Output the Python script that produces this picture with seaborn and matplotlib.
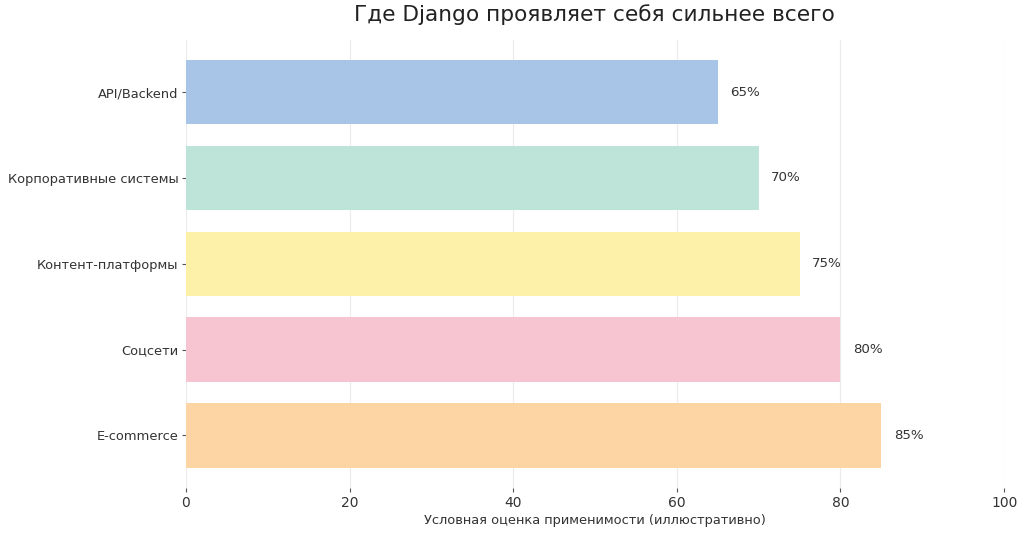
import matplotlib
matplotlib.use("Agg")
import matplotlib.pyplot as plt
import seaborn as sns
import pandas as pd

categories = ["API/Backend", "Корпоративные системы", "Контент-платформы", "Соцсети", "E-commerce"]
values = [65, 70, 75, 80, 85]
colors = ["#A8C5E8", "#BEE3D9", "#FDF0A8", "#F7C4D1", "#FDD5A5"]
x_ticks = [0, 20, 40, 60, 80, 100]
title = "Где Django проявляет себя сильнее всего"
xlabel = "Условная оценка применимости (иллюстративно)"

sns.set_theme(style="whitegrid")
plt.rcParams["font.family"] = ["DejaVu Sans"]

df = pd.DataFrame({"cat": categories, "val": values})

fig = plt.figure(figsize=(10.24, 5.35), dpi=100)
ax = fig.add_axes([0.1816, 0.088, 0.799, 0.838])

sns.barplot(data=df, x="val", y="cat", hue="cat", palette=colors, legend=False,
            orient="h", width=0.75, ax=ax, saturation=1)
for p in ax.patches:
    p.set_edgecolor("none")

for i, v in enumerate(values):
    ax.text(v + 1.5, i, f"{v}%", va="center", ha="left", fontsize=9.6, color="#333333")

ax.set_xlim(0, 100)
ax.set_ylim(4.6125, -0.6125)
ax.set_xticks(x_ticks)
ax.grid(axis="x", color="#ebebeb", linewidth=0.8)
ax.grid(axis="y", visible=False)
ax.set_axisbelow(True)
for s in ax.spines.values():
    s.set_visible(False)
ax.tick_params(axis="both", which="both", length=3, width=0.8, color="#555555",
               labelsize=9.35, labelcolor="#333333", bottom=True, left=True, pad=2.5)
ax.tick_params(axis="x", labelsize=10, pad=3)
ax.set_ylabel("")
ax.set_xlabel(xlabel, fontsize=9.4, color="#333333", labelpad=3)
fig.text(0.5805, 0.972, title, ha="center", va="center", fontsize=15.6, color="#222222")

fig.savefig("out.png", dpi=100, facecolor="white")
